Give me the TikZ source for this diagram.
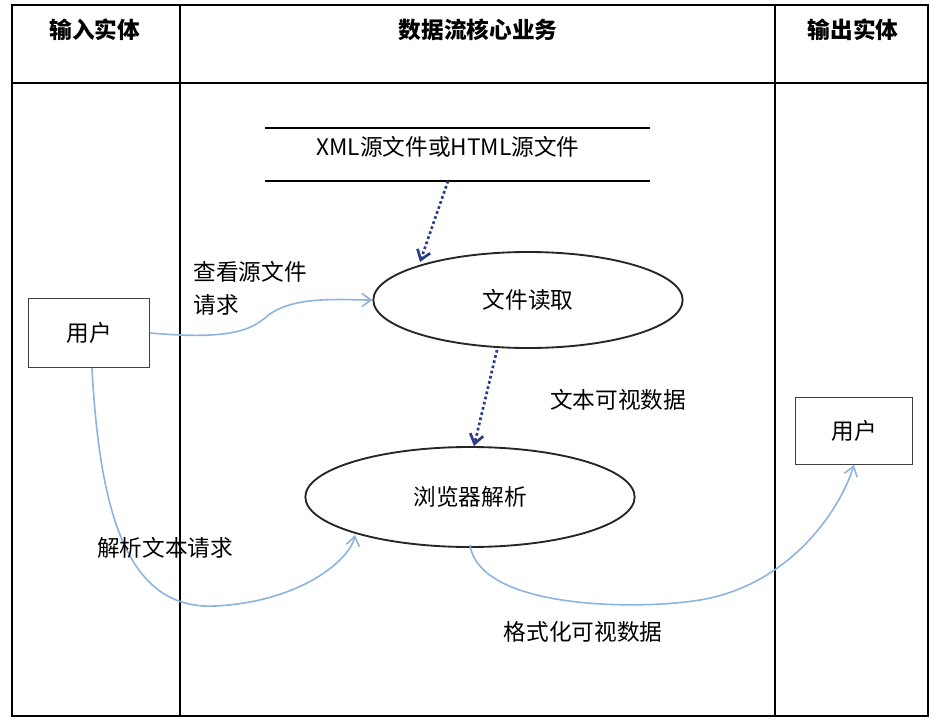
\documentclass[tikz,border=0pt]{standalone}
\usepackage{fontspec}
\setmainfont{Noto Sans CJK SC}
\usetikzlibrary{arrows.meta,shapes.geometric}
\begin{document}
\begin{tikzpicture}[x=0.75pt,y=-0.75pt,
  lbl/.style={font=\fontsize{17}{19}\selectfont,inner sep=1pt},
  hdr/.style={font=\fontsize{17}{19}\selectfont\bfseries},
  proc/.style={draw,ellipse,line width=1.4pt,draw=black!85},
  ent/.style={draw,line width=0.9pt,draw=black!75},
  flow/.style={draw={rgb,255:red,140;green,180;blue,225},line width=1.2pt,-{Straight Barb[length=7pt,width=10pt]}},
  dflow/.style={draw={rgb,255:red,40;green,60;blue,140},line width=2pt,dotted,-{Straight Barb[length=7pt,width=10pt]}}]
\useasboundingbox (0,0) rectangle (936,724);
\draw[line width=1pt] (12,5) rectangle (928,716);
\draw[line width=1pt] (12,83) -- (928,83) (180,5) -- (180,716) (775,5) -- (775,716);
\node[hdr] (h1) at (95,30) {输入实体};
\node[hdr] (h2) at (478,30) {数据流核心业务};
\node[hdr] (h3) at (853,30) {输出实体};
\draw[line width=1pt] (265,128) -- (650,128) (265,181) -- (650,181);
\node[lbl] (ds) at (448,147) {XML源文件或HTML源文件};
\coordinate (dsb) at (448,181);
\coordinate (p1t) at (420,262);
\coordinate (p1b) at (497,350);
\coordinate (p2t) at (474,446);
\node[proc,minimum width=232pt,minimum height=72pt,lbl] (p1) at (528,300) {文件读取};
\node[proc,minimum width=247pt,minimum height=75pt,lbl] (p2) at (470,497) {浏览器解析};
\node[ent,lbl,minimum width=91pt,minimum height=52pt] (u1) at (89,333) {用户};
\node[ent,lbl,minimum width=88pt,minimum height=50pt] (u2) at (854,431) {用户};
\draw[dflow] (dsb) -- (p1t);
\draw[dflow] (p1b) -- (p2t);
\draw[flow] (u1.east) .. controls (230,340) and (250,330) .. (265,318) .. controls (290,295) and (340,300) .. (p1.west);
\draw[flow] (92,368) .. controls (100,520) and (130,610) .. (215,606) .. controls (300,602) and (350,560) .. (355,535);
\draw[flow] (470,545) .. controls (480,610) and (640,610) .. (700,600) .. controls (790,585) and (840,510) .. (854,465);
\node[lbl,anchor=west] (l1) at (192,272) {查看源文件};
\node[lbl,anchor=west] (l2) at (192,305) {请求};
\node[lbl] (l3) at (618,400) {文本可视数据};
\node[lbl] (l4) at (165,548) {解析文本请求};
\node[lbl] (l5) at (583,632) {格式化可视数据};
\end{tikzpicture}
\end{document}
